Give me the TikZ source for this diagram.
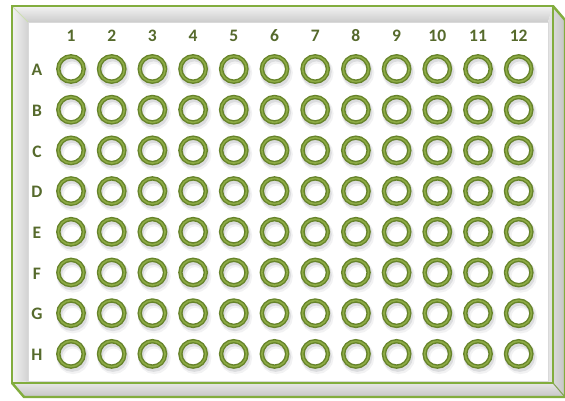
\documentclass[tikz,border=0pt]{standalone}
\usepackage{fontspec}
\setmainfont{Carlito}
\definecolor{plategreen}{HTML}{82AD3E}
\definecolor{welldark}{HTML}{66832A}
\definecolor{wellmid}{HTML}{8DAB45}
\definecolor{labelcol}{HTML}{566A2C}
\definecolor{shadowcol}{HTML}{5A5F6A}
\tikzset{
  edge/.style={draw=plategreen, line width=2.4pt, line join=miter},
  thinedge/.style={draw=plategreen!70!gray, line width=1pt},
  well/.style={circle, draw=welldark, line width=4.4pt, minimum size=25.4pt, inner sep=0pt},
  wellshadow/.style={draw=shadowcol, line width=#1},
  lab/.style={text=labelcol, font=\bfseries\fontsize{17.5}{17.5}\selectfont, inner sep=0pt}
}
\begin{document}
\begin{tikzpicture}[x=1pt,y=-1pt]
\useasboundingbox (0,0) rectangle (565,400);
% extrusion faces
\shade[left color=gray!30, right color=gray!45] (553,6) -- (565,20) -- (565,397) -- (553,383) -- cycle;
\shade[top color=gray!20, bottom color=gray!45] (12,383) -- (553,383) -- (565,397) -- (24,397) -- cycle;
% bevels
\shade[top color=gray!10, bottom color=gray!40] (12,6) -- (553,6) -- (548,22) -- (28,22) -- cycle;
\shade[left color=gray!10, right color=gray!35] (12,6) -- (28,22) -- (28,381) -- (12,383) -- cycle;
\fill[gray!22] (553,6) -- (553,383) -- (548,381) -- (548,22) -- cycle;
\fill[gray!30] (12,383) -- (553,383) -- (548,381) -- (28,381) -- cycle;
% front face
\fill[white] (28,22) rectangle (548,381);
\draw[gray!30, line width=0.6pt] (28,22) rectangle (548,381);
% corner lines
\draw[plategreen!40, line width=0.8pt] (12,6) -- (28,22);
\draw[thinedge] (553,383) -- (565,397);
\draw[thinedge] (553,6) -- (553,383);
% outlines
\draw[edge] (12,6) rectangle (553,383);
\draw[edge] (553,6) -- (565,20) -- (565,397) -- (24,397) -- (12,383);
% labels
\foreach \c in {1,...,12} {
  \node[lab] (col\c) at ({71+40.7*(\c-1)},36) {\c};
}
\foreach \r [count=\i] in {A,B,C,D,E,F,G,H} {
  \node[lab] (row\r) at (37,{70+40.7*(\i-1)}) {\r};
}
% wells
\foreach \r [count=\i] in {A,B,C,D,E,F,G,H} {
  \foreach \c in {1,...,12} {
    \pgfmathsetmacro{\wx}{71+40.7*(\c-1)}
    \pgfmathsetmacro{\wy}{69+40.7*(\i-1)}
    \draw[wellshadow=7pt, opacity=0.08] (\wx+2,\wy+3.8) circle (12.8);
    \draw[wellshadow=5pt, opacity=0.15] (\wx+1.2,\wy+2.6) circle (12.8);
    \node[well] (w\r\c) at (\wx,\wy) {};
    \draw[wellmid, line width=1.6pt] (w\r\c.center) circle (12.7);
  }
}
\end{tikzpicture}
\end{document}
